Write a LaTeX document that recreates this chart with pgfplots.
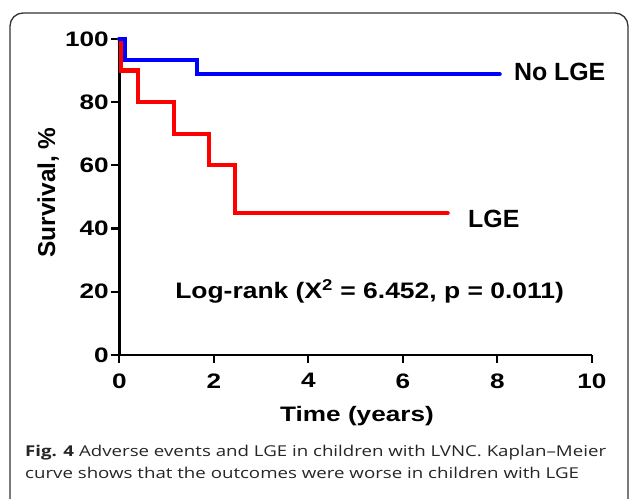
\documentclass[border=0pt]{standalone}
\usepackage{fontspec}
\setmainfont{Liberation Sans}[FakeStretch=1.25]
\newfontfamily\plainfont{Liberation Sans}
\newfontfamily\capfont{Open Sans}[FakeStretch=1.25]
\usepackage{graphicx}
\usepackage{pgfplots}
\pgfplotsset{compat=1.18}

\begin{document}
\begin{tikzpicture}[x=1bp,y=1bp]
\useasboundingbox (0,0) rectangle (629,499);
\begin{scope}
  \clip (0,0) rectangle (629,499);
  \draw[line width=1.3bp, black!80, rounded corners=13bp] (10,486) rectangle (628,-20);
\end{scope}

\begin{axis}[
    at={(119.3bp,144bp)}, anchor=south west,
    scale only axis,
    width=472.5bp, height=316bp,
    xmin=0, xmax=10, ymin=0, ymax=100,
    axis lines=left,
    axis line style={line width=2.6bp, -},
    every tick/.style={line width=2.2bp, black},
    major tick length=8bp,
    tick align=outside,
    xtick={0,2,...,10}, ytick={0,20,...,100},
    /pgf/number format/assume math mode=true,
    tick label style={font=\fontsize{21}{24}\selectfont\bfseries},
    xticklabel style={yshift=-7bp},
    yticklabel style={xshift=1bp},
    clip=false,
]
\addplot[const plot, line width=4.2bp, red, line cap=round]
    coordinates {(0,100) (0.03,90) (0.39,80) (1.15,70) (1.90,60) (2.45,45) (6.95,45)};
\addplot[const plot, line width=4.2bp, blue, line cap=round]
    coordinates {(0,100) (0.12,93.3) (1.64,88.9) (8.05,88.9)};
\node[anchor=base west, inner sep=0, font=\plainfont\fontsize{25}{28}\selectfont\bfseries] at (axis cs:8.35,87) {No LGE};
\node[anchor=base west, inner sep=0, font=\plainfont\fontsize{25}{28}\selectfont\bfseries] at (axis cs:7.38,40.5) {LGE};
\node[anchor=base west, inner sep=0, font=\plainfont\fontsize{22.5}{26}\selectfont\bfseries] at (axis cs:1.18,18)
    {\scalebox{1.18}[1]{Log-rank (X\textsuperscript{2} = 6.452, p = 0.011)}};
\end{axis}

% axis titles
\node[anchor=base, inner sep=0, font=\fontsize{21}{24}\selectfont\bfseries] at (357,77) {Time (years)};
\node[anchor=base, inner sep=0, rotate=90, font=\plainfont\fontsize{24.5}{28}\selectfont\bfseries] at (55,306.5) {Survival, \%};

% caption
\node[anchor=base west, inner sep=0, font=\capfont\fontsize{15}{19}\selectfont, text=black!85] at (25,42)
    {\textbf{Fig. 4} Adverse events and LGE in children with LVNC. Kaplan–Meier};
\node[anchor=base west, inner sep=0, font=\capfont\fontsize{15}{19}\selectfont, text=black!85] at (25,20)
    {curve shows that the outcomes were worse in children with LGE};
\end{tikzpicture}
\end{document}
